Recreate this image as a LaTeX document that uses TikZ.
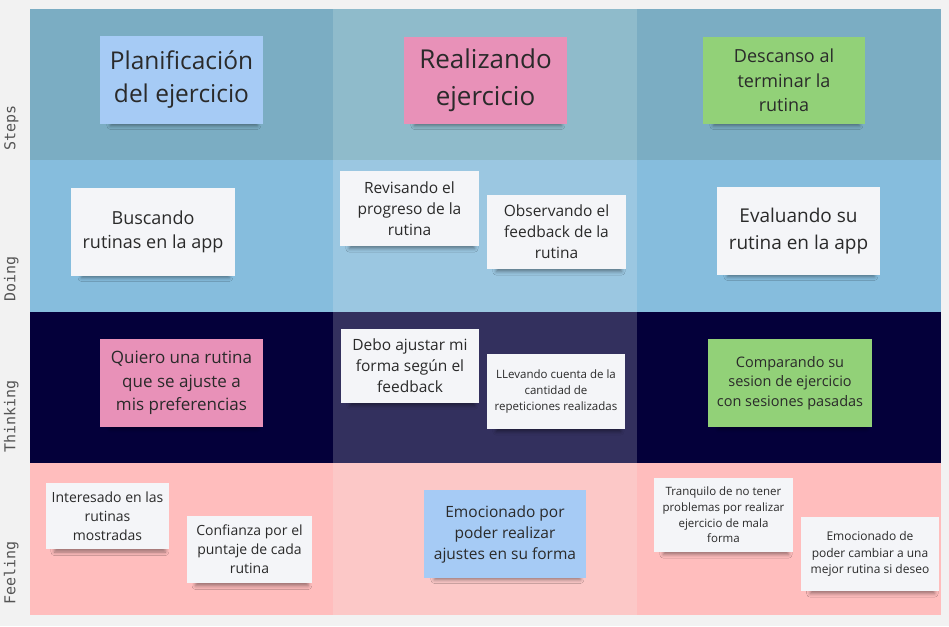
\documentclass[tikz,border=0pt]{standalone}
\usepackage{fontspec}
\setmainfont{Open Sans}
\newfontfamily\labelfont{DejaVu Sans Mono}
\usetikzlibrary{shadows.blur}
\definecolor{bgc}{HTML}{F2F2F2}
\definecolor{stepside}{HTML}{7BADC3}
\definecolor{stepmid}{HTML}{8FBBCB}
\definecolor{doside}{HTML}{86BDDD}
\definecolor{domid}{HTML}{9BC7E1}
\definecolor{thside}{HTML}{04003A}
\definecolor{thmid}{HTML}{33305E}
\definecolor{feside}{HTML}{FFBDBD}
\definecolor{femid}{HTML}{FCC8C7}
\definecolor{nblue}{HTML}{A6CBF5}
\definecolor{npink}{HTML}{E891B8}
\definecolor{ngreen}{HTML}{92D178}
\definecolor{nwhite}{HTML}{F4F5F8}
\definecolor{ntext}{HTML}{2A2A2A}
\definecolor{lbl}{HTML}{555555}
\tikzset{
  note/.style={rectangle, draw=none, align=center, inner sep=0pt, text=ntext,
    blur shadow={shadow scale=0.9, shadow yshift=-7pt,
      shadow opacity=40, shadow blur radius=4pt}},
  rowlabel/.style={rotate=90, anchor=base west, inner sep=0pt, text=lbl,
    font=\labelfont\fontsize{15}{18}\selectfont},
  fs/.style n args={2}{font=\fontsize{#1}{#2}\selectfont}
}
\begin{document}
\begin{tikzpicture}[x=1pt,y=-1pt]
\useasboundingbox (0,0) rectangle (949,626);
\fill[bgc] (0,0) rectangle (949,626);
% cells
\fill[stepside] (30,9) rectangle (333,160);
\fill[stepmid] (333,9) rectangle (637,160);
\fill[stepside] (637,9) rectangle (941,160);
\fill[doside] (30,160) rectangle (333,312);
\fill[domid] (333,160) rectangle (637,312);
\fill[doside] (637,160) rectangle (941,312);
\fill[thside] (30,312) rectangle (333,463);
\fill[thmid] (333,312) rectangle (637,463);
\fill[thside] (637,312) rectangle (941,463);
\fill[feside] (30,463) rectangle (333,615);
\fill[femid] (333,463) rectangle (637,615);
\fill[feside] (637,463) rectangle (941,615);
% row labels
\node[rowlabel] (lsteps) at (15.5,151) {Steps};
\node[rowlabel] (ldoing) at (15.5,302) {Doing};
\node[rowlabel] (lthinking) at (15.5,453) {Thinking};
\node[rowlabel] (lfeeling) at (15.5,605) {Feeling};
% notes
\node[note, fill=nblue, minimum width=163pt, minimum height=88pt, fs={24.5}{33}] (n1) at (181.5,80) {Planificación\\del ejercicio};
\node[note, fill=npink, minimum width=163pt, minimum height=87pt, fs={26}{37}] (n2) at (485.5,80.5) {Realizando\\ejercicio};
\node[note, fill=ngreen, minimum width=162pt, minimum height=87pt, fs={18}{24.5}] (n3) at (784,80.5) {Descanso al\\terminar la\\rutina};
\node[note, fill=nwhite, minimum width=164pt, minimum height=88pt, fs={18}{24.5}] (n4) at (153,232) {Buscando\\rutinas en la app};
\node[note, fill=nwhite, minimum width=139pt, minimum height=75pt, fs={15.5}{21}] (n5) at (409.5,208.5) {Revisando el\\progreso de la\\rutina};
\node[note, fill=nwhite, minimum width=139pt, minimum height=74pt, fs={15.5}{21}] (n6) at (556.5,232) {Observando el\\feedback de la\\rutina};
\node[note, fill=nwhite, minimum width=163pt, minimum height=88pt, fs={19}{27}] (n7) at (798.5,231) {Evaluando su\\rutina en la app};
\node[note, fill=npink, minimum width=163pt, minimum height=88pt, fs={17}{23.5}] (n8) at (181.5,383) {Quiero una rutina\\que se ajuste a\\mis preferencias};
\node[note, fill=nwhite, minimum width=138pt, minimum height=74pt, fs={15.5}{21}] (n9) at (410,366) {Debo ajustar mi\\forma según el\\feedback};
\node[note, fill=nwhite, minimum width=138pt, minimum height=75pt, fs={11.5}{16}] (n10) at (556,391.5) {LLevando cuenta de la\\cantidad de\\repeticiones realizadas};
\node[note, fill=ngreen, minimum width=164pt, minimum height=88pt, fs={14.5}{19.5}] (n11) at (790,383) {Comparando su\\sesion de ejercicio\\con sesiones pasadas};
\node[note, fill=nwhite, minimum width=123pt, minimum height=66pt, fs={14}{19}] (n12) at (107.5,516) {Interesado en las\\rutinas\\mostradas};
\node[note, fill=nwhite, minimum width=125pt, minimum height=67pt, fs={14}{19}] (n13) at (249.5,549.5) {Confianza por el\\puntaje de cada\\rutina};
\node[note, fill=nblue, minimum width=162pt, minimum height=88pt, fs={15.5}{21}] (n14) at (505,534) {Emocionado por\\poder realizar\\ajustes en su forma};
\node[note, fill=nwhite, minimum width=139pt, minimum height=74pt, fs={11.5}{15.7}] (n15) at (723.5,515) {Tranquilo de no tener\\problemas por realizar\\ejercicio de mala\\forma};
\node[note, fill=nwhite, minimum width=138pt, minimum height=74pt, fs={12}{16.5}] (n16) at (870,554) {Emocionado de\\poder cambiar a una\\mejor rutina si deseo};
\end{tikzpicture}
\end{document}
